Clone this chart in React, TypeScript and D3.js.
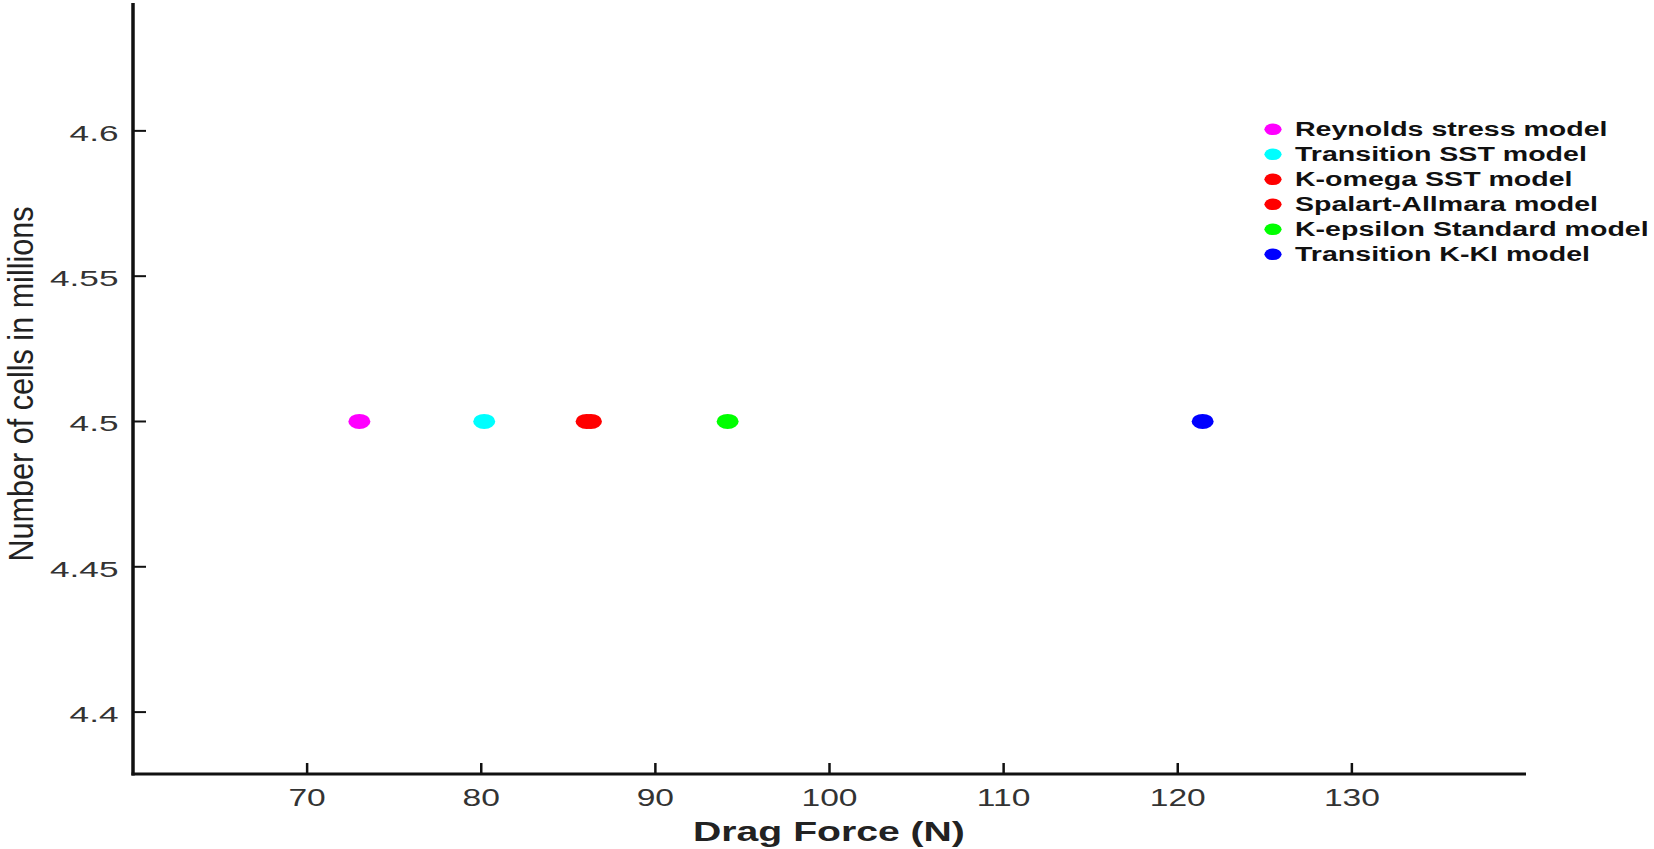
import React from "react";
import * as d3 from "d3";

const models = [
  "Reynolds stress model",
  "Transition SST model",
  "K-omega SST model",
  "Spalart-Allmara model",
  "K-epsilon Standard model",
  "Transition K-Kl model",
];
const dragForce = [73.0, 80.17, 86.05, 86.3, 94.15, 121.43];
const cellsMillions = [4.5, 4.5, 4.5, 4.5, 4.5, 4.5];
const colors = ["#ff00ff", "#00ffff", "#ff0000", "#ff0000", "#00ff00", "#0000ff"];
const xTicks = [70, 80, 90, 100, 110, 120, 130];
const yTicks = [4.4, 4.45, 4.5, 4.55, 4.6];
const xDomain = [60, 140];
const yDomain = [4.3787, 4.644];
const xTitle = "Drag Force (N)";
const yTitle = "Number of cells in millions";

const W = 1654;
const H = 849;

export default function App() {
  const x = d3.scaleLinear().domain(xDomain).range([133, 1526]);
  const y = d3.scaleLinear().domain(yDomain).range([774, 3]);
  const [x0, x1] = x.range();
  const [y0, y1] = y.range();
  const fmtY = (v: number) => d3.format("")(+v.toFixed(2));

  const legendX = 1273;
  const legendY0 = 129.3;
  const legendStep = 25;

  return (
    <svg
      width={W}
      height={H}
      style={{ position: "absolute", left: 0, top: 0, display: "block", background: "#fff" }}
      fontFamily="'Liberation Sans', Arial, sans-serif"
    >
      <rect width={W} height={H} fill="#fff" />
      {/* axes */}
      <line x1={x0} x2={x0} y1={y1} y2={y0 + 1.5} stroke="#111" strokeWidth={3.5} />
      <line x1={x0 - 1.5} x2={x1} y1={y0} y2={y0} stroke="#111" strokeWidth={3} />
      {/* y ticks */}
      {yTicks.map((t) => (
        <g key={"y" + t}>
          <line x1={x0} x2={x0 + 13} y1={y(t)} y2={y(t)} stroke="#111" strokeWidth={2} />
          <text
            transform={`translate(118.5,${y(t) + 10}) scale(1.6,1)`}
            textAnchor="end"
            fontSize={22}
            fill="#333"
          >
            {fmtY(t)}
          </text>
        </g>
      ))}
      {/* x ticks */}
      {xTicks.map((t) => (
        <g key={"x" + t}>
          <line x1={x(t)} x2={x(t)} y1={y0} y2={y0 - 11} stroke="#111" strokeWidth={2.5} />
          <text
            transform={`translate(${x(t)},806) scale(1.37,1)`}
            textAnchor="middle"
            fontSize={24.5}
            fill="#333"
          >
            {t}
          </text>
        </g>
      ))}
      {/* axis titles */}
      <text
        transform={`translate(829,840.5) scale(1.45,1)`}
        textAnchor="middle"
        fontSize={27}
        fontWeight="bold"
        fill="#222"
      >
        {xTitle}
      </text>
      <text
        transform={`translate(32.5,384) rotate(-90) scale(1.02,1.2)`}
        textAnchor="middle"
        fontSize={30}
        fill="#222"
      >
        {yTitle}
      </text>
      {/* points */}
      {dragForce.map((d, i) => (
        <ellipse
          key={"p" + i}
          cx={x(d)}
          cy={y(cellsMillions[i])}
          rx={11}
          ry={7.6}
          fill={colors[i]}
        />
      ))}
      {/* legend */}
      {models.map((m, i) => (
        <g key={"l" + i}>
          <ellipse cx={legendX} cy={legendY0 + i * legendStep} rx={8.6} ry={5.8} fill={colors[i]} />
          <text
            transform={`translate(1295,${legendY0 + i * legendStep + 6.5}) scale(1.465,1)`}
            fontSize={19.5}
            fontWeight="bold"
            fill="#111"
          >
            {m}
          </text>
        </g>
      ))}
    </svg>
  );
}
